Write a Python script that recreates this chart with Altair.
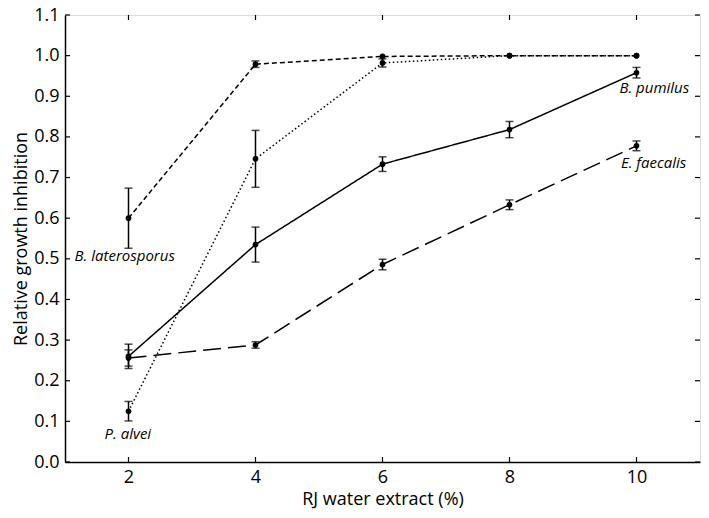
import altair as alt
import pandas as pd

species = ["B. pumilus", "E. faecalis", "B. laterosporus", "P. alvei"]
conc = [2, 4, 6, 8, 10]
pumilus = [0.260, 0.535, 0.733, 0.818, 0.958]
pumilus_err = [0.030, 0.043, 0.018, 0.020, 0.013]
faecalis = [0.256, 0.288, 0.486, 0.633, 0.778]
faecalis_err = [0.020, 0.008, 0.013, 0.012, 0.012]
laterosporus = [0.600, 0.979, 0.998, 1.000, 1.000]
laterosporus_err = [0.074, 0.008, 0.0, 0.0, 0.0]
alvei = [0.125, 0.746, 0.982, 1.000, 1.000]
alvei_err = [0.024, 0.070, 0.010, 0.0, 0.0]

label_text = ["B. pumilus", "E. faecalis", "B. laterosporus", "P. alvei"]
label_x = [10.28, 10.27, 1.94, 1.99]
label_y = [0.920, 0.736, 0.506, 0.069]

y_ticks = [round(i * 0.1, 1) for i in range(12)]
x_ticks = [2, 4, 6, 8, 10]

W, H = 635, 447
FONT = "Open Sans"

rows = []
for sp, vals, errs in [("B. pumilus", pumilus, pumilus_err),
                       ("E. faecalis", faecalis, faecalis_err),
                       ("B. laterosporus", laterosporus, laterosporus_err),
                       ("P. alvei", alvei, alvei_err)]:
    for x, v, e in zip(conc, vals, errs):
        rows.append({"species": sp, "x": x, "y": v, "lo": v - e, "hi": v + e, "err": e})
df = pd.DataFrame(rows)
df_err = df[df["err"] > 0]
labels = pd.DataFrame({"text": label_text, "x": label_x, "y": label_y})
yt = pd.DataFrame({"v": y_ticks})
xt = pd.DataFrame({"v": x_ticks})

xs = alt.Scale(domain=[1, 11], nice=False, zero=False)
ys = alt.Scale(domain=[0, 1.1], nice=False, zero=True)

xaxis = alt.Axis(values=x_ticks, format="d", tickSize=0, grid=False, labelFontSize=18, labelFont=FONT,
                 labelPadding=6, title="RJ water extract (%)", titleFont=FONT, titleFontSize=18,
                 titleFontWeight="normal", titlePadding=4, domain=True, domainColor="black",
                 domainWidth=1.5, labelColor="black", titleColor="black")
yaxis = alt.Axis(values=y_ticks, format=".1f", tickSize=0, grid=False, labelFontSize=18, labelFont=FONT,
                 labelPadding=6, title="Relative growth inhibition", titleFont=FONT, titleFontSize=18,
                 titleFontWeight="normal", titlePadding=3, domain=True, domainColor="black",
                 domainWidth=1.5, labelColor="black", titleColor="black")

dash_scale = alt.Scale(domain=species, range=[[1, 0], [18, 7], [5, 3], [1.5, 2.5]])

lines = alt.Chart(df).mark_line(color="black", strokeWidth=1.5).encode(
    x=alt.X("x:Q", scale=xs, axis=xaxis),
    y=alt.Y("y:Q", scale=ys, axis=yaxis),
    strokeDash=alt.StrokeDash("species:N", scale=dash_scale, legend=None),
    detail="species:N",
)

bars = alt.Chart(df_err).mark_rule(color="black", strokeWidth=1.5).encode(
    x=alt.X("x:Q", scale=xs), y=alt.Y("lo:Q", scale=ys), y2="hi:Q")
cap_hi = alt.Chart(df_err).mark_tick(color="black", orient="horizontal", size=8, thickness=1.5).encode(
    x=alt.X("x:Q", scale=xs), y=alt.Y("hi:Q", scale=ys))
cap_lo = alt.Chart(df_err).mark_tick(color="black", orient="horizontal", size=8, thickness=1.5).encode(
    x=alt.X("x:Q", scale=xs), y=alt.Y("lo:Q", scale=ys))

points = alt.Chart(df).mark_circle(color="black", size=32, opacity=1).encode(
    x=alt.X("x:Q", scale=xs), y=alt.Y("y:Q", scale=ys))

text = alt.Chart(labels).mark_text(font=FONT, fontSize=15, fontStyle="italic", color="black").encode(
    x=alt.X("x:Q", scale=xs), y=alt.Y("y:Q", scale=ys), text="text:N")

tl = alt.Chart(yt).mark_rule(color="black", strokeWidth=1.2).encode(
    y=alt.Y("v:Q", scale=ys), x=alt.value(0), x2=alt.value(5))
tr = alt.Chart(yt).mark_rule(color="black", strokeWidth=1.2).encode(
    y=alt.Y("v:Q", scale=ys), x=alt.value(W - 5), x2=alt.value(W))
tb = alt.Chart(xt).mark_rule(color="black", strokeWidth=1.2).encode(
    x=alt.X("v:Q", scale=xs), y=alt.value(H - 5), y2=alt.value(H))
tt = alt.Chart(xt).mark_rule(color="black", strokeWidth=1.2).encode(
    x=alt.X("v:Q", scale=xs), y=alt.value(0), y2=alt.value(5))

chart = alt.layer(lines, bars, cap_hi, cap_lo, points, text, tl, tr, tb, tt).properties(
    width=W, height=H,
    autosize=alt.AutoSizeParams(type="none"),
    padding={"left": 57, "top": 7, "right": 1, "bottom": 48},
).configure_view(stroke="black", strokeWidth=1.5).configure(background="white")

chart.save("out.html", embed_options={"renderer": "svg", "actions": False})
